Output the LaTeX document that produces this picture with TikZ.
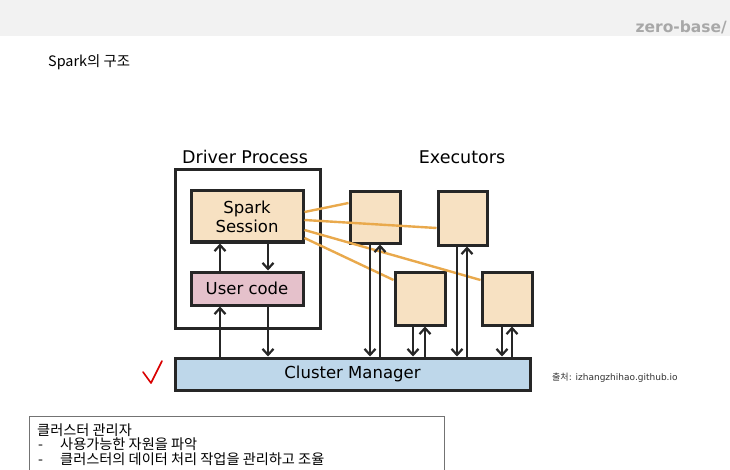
\documentclass[tikz,border=0pt]{standalone}
\usepackage{fontspec}
\setmainfont{DejaVu Sans}
\newfontfamily\krfont{Noto Sans CJK KR}
\usetikzlibrary{arrows.meta}
\definecolor{sessfill}{HTML}{F7E1C2}
\definecolor{codefill}{HTML}{E5C1CB}
\definecolor{cmfill}{HTML}{BED7EA}
\definecolor{wire}{HTML}{E9A94C}
\definecolor{brandgray}{HTML}{A8A8A8}

\begin{document}
\begin{tikzpicture}[x=1pt, y=-1pt, >={Straight Barb[length=6pt,width=11pt]},
    box/.style={draw=black!85, line width=3pt, inner sep=0pt, align=center,
      font=\fontsize{16.5}{19}\selectfont},
    lbl/.style={font=\fontsize{17.5}{20}\selectfont},
    link/.style={->, line width=2.2pt, black!85},
    wireline/.style={wire, line width=2.4pt},
    kr/.style={anchor=west, inner sep=0pt, font=\krfont\fontsize{14.2}{15}\selectfont}]
    % Hintergrund
    \useasboundingbox (0,0) rectangle (730,470);
    \fill[white] (0,0) rectangle (730,470);
    \fill[black!5] (0,0) rectangle (730,36);
    \node[anchor=east, inner sep=0pt, font=\bfseries\fontsize{15.5}{18}\selectfont, text=brandgray] (brand) at (727,27) {zero-base/};
    \node[kr, font=\krfont\fontsize{14.4}{16}\selectfont] (title) at (48,62) {Spark의 구조};

    % Driver
    \node[box, fill=white, minimum width=145, minimum height=158] (drv) at (247.5,249) {};
    \node[lbl] (drvlbl) at (245,157) {Driver Process};
    \node[box, fill=sessfill, minimum width=112, minimum height=51] (ss) at (247,216.5) {Spark\\Session};
    \node[box, fill=codefill, minimum width=112, minimum height=33] (uc) at (247,288.5) {User code};

    % Executors
    \node[lbl] (exlbl) at (462,157) {Executors};
    \node[box, fill=sessfill, minimum width=50, minimum height=51] (e1) at (375,217.5) {};
    \node[box, fill=sessfill, minimum width=49, minimum height=53] (e2) at (462.5,218.5) {};
    \node[box, fill=sessfill, minimum width=50, minimum height=53] (e3) at (420,298.5) {};
    \node[box, fill=sessfill, minimum width=50, minimum height=53] (e4) at (507,298.5) {};

    % Cluster Manager
    \node[box, fill=cmfill, minimum width=355, minimum height=32] (cm) at (352.5,374) {Cluster Manager};
    \node[anchor=west, inner sep=0pt, font=\fontsize{9}{11}\selectfont, text=black!80] (src) at (552,378) {{\krfont 출처}: izhangzhihao.github.io};

    % Session -> Executors
    \draw[wireline] ([yshift=4.5pt]ss.east) -- ([yshift=14.5pt]e1.west);
    \draw[wireline] ([yshift=-3.5pt]ss.east) -- ([yshift=-9.5pt]e2.west);
    \draw[wireline] ([yshift=-13.5pt]ss.east) -- ([yshift=18.5pt]e4.west);
    \draw[wireline] ([yshift=-21.5pt]ss.east) -- ([yshift=18.5pt]e3.west);

    % Driver-Pfeile
    \draw[link] ([xshift=-27pt]uc.north) -- ([xshift=-27pt]ss.south);
    \draw[link] ([xshift=21pt]ss.south) -- ([xshift=21pt]uc.north);
    \draw[link] ([xshift=-27pt]uc.south |- cm.north) -- ([xshift=-27pt]uc.south);
    \draw[link] ([xshift=21pt]uc.south) -- ([xshift=21pt]uc.south |- cm.north);

    % Executor-Pfeile
    \draw[link] ([xshift=-5pt]e1.south) -- ([xshift=-5pt]e1.south |- cm.north);
    \draw[link] ([xshift=5pt]e1.south |- cm.north) -- ([xshift=5pt]e1.south);
    \draw[link] ([xshift=-5.5pt]e2.south) -- ([xshift=-5.5pt]e2.south |- cm.north);
    \draw[link] ([xshift=4.5pt]e2.south |- cm.north) -- ([xshift=4.5pt]e2.south);
    \draw[link] ([xshift=-7pt]e3.south) -- ([xshift=-7pt]e3.south |- cm.north);
    \draw[link] ([xshift=5pt]e3.south |- cm.north) -- ([xshift=5pt]e3.south);
    \draw[link] ([xshift=-5pt]e4.south) -- ([xshift=-5pt]e4.south |- cm.north);
    \draw[link] ([xshift=5pt]e4.south |- cm.north) -- ([xshift=5pt]e4.south);

    % Haken
    \draw[red!85!black, line width=1.6pt, line cap=round, line join=round]
      (143,372) -- (151,383) -- (162,361);

    % Notiz
    \draw[black!55, line width=0.8pt] (29,480) -- (29,416) -- (444,416) -- (444,480);
    \node[kr] (n1) at (37,430) {클러스터 관리자};
    \node[kr] (n2) at (38,444) {\makebox[22pt][l]{-}사용가능한 자원을 파악};
    \node[kr] (n3) at (38,459) {\makebox[22pt][l]{-}클러스터의 데이터 처리 작업을 관리하고 조율};
\end{tikzpicture}
\end{document}
